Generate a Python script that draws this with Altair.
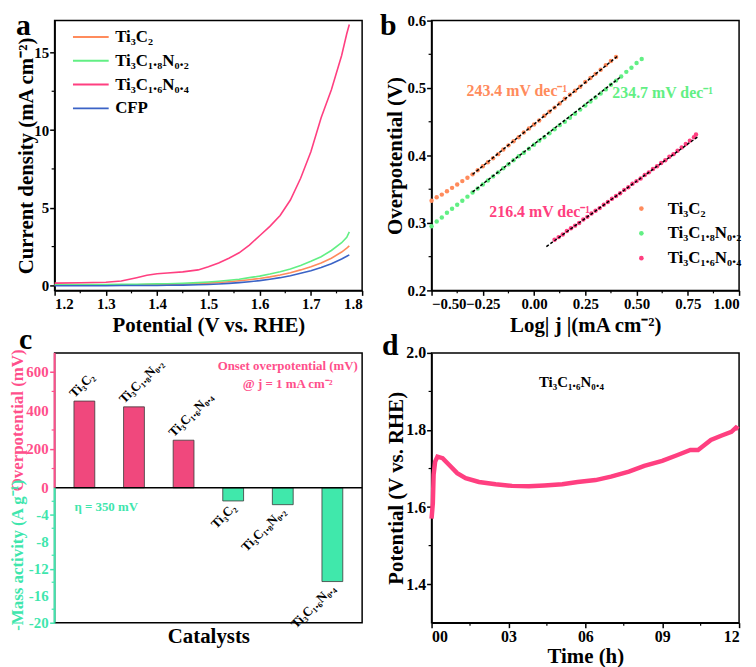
import altair as alt
import pandas as pd

FONT = "Liberation Serif"
W, H = 310, 272

ORANGE = "#ff8b5c"
GREEN = "#62ef84"
PINK = "#ff3f80"
BLUE = "#3b63c6"
CPINK = "#f0487d"
CGREEN = "#40e8ab"
LPINK = "#ff4f8b"
LGREEN = "#3fe6ad"

NAMES = ["Ti₃C₂", "Ti₃C₁.₈N₀.₂", "Ti₃C₁.₆N₀.₄"]

# ---------------- panel a : LSV curves ----------------
lsv_potential = [1.20, 1.25, 1.30, 1.33, 1.36, 1.38, 1.40, 1.42, 1.45, 1.48, 1.50, 1.52, 1.54,
                 1.56, 1.58, 1.60, 1.62, 1.64, 1.66, 1.68, 1.70, 1.72, 1.74, 1.76, 1.77, 1.775]
lsv_ti3c2 = [0.02, 0.02, 0.03, 0.03, 0.04, 0.05, 0.06, 0.07, 0.09, 0.12, 0.15, 0.19, 0.24,
             0.30, 0.37, 0.45, 0.55, 0.67, 0.82, 1.00, 1.20, 1.45, 1.75, 2.15, 2.40, 2.55]
lsv_n02 = [0.05, 0.05, 0.06, 0.07, 0.08, 0.09, 0.10, 0.11, 0.14, 0.18, 0.22, 0.27, 0.33,
           0.40, 0.50, 0.60, 0.73, 0.88, 1.05, 1.28, 1.55, 1.85, 2.25, 2.75, 3.10, 3.45]
lsv_n04 = [0.15, 0.17, 0.20, 0.28, 0.50, 0.65, 0.75, 0.80, 0.87, 1.00, 1.20, 1.45, 1.75,
           2.10, 2.60, 3.20, 3.80, 4.50, 5.50, 6.90, 8.60, 10.8, 12.6, 14.8, 16.2, 16.8]
lsv_cfp = [-0.02, -0.02, -0.02, -0.01, -0.01, 0.00, 0.00, 0.01, 0.02, 0.04, 0.06, 0.09, 0.13,
           0.18, 0.24, 0.31, 0.40, 0.50, 0.62, 0.78, 0.95, 1.15, 1.40, 1.70, 1.88, 1.97]
a_names = NAMES + ["CFP"]
a_colors = [ORANGE, GREEN, PINK, BLUE]
a_xticks = [1.2, 1.3, 1.4, 1.5, 1.6, 1.7, 1.8]
a_xminor = [1.25, 1.35, 1.45, 1.55, 1.65, 1.75]
a_yticks = [0, 5, 10, 15]
a_yminor = [2.5, 7.5, 12.5]

# ---------------- panel b : Tafel plots ----------------
tafel_x_ti3c2 = [-0.500, -0.475, -0.450, -0.425, -0.400, -0.375, -0.350, -0.325, -0.300, -0.275,
                 -0.250, -0.225, -0.200, -0.175, -0.150, -0.125, -0.100, -0.075, -0.050, -0.025,
                 0.000, 0.025, 0.050, 0.075, 0.100, 0.125, 0.150, 0.175, 0.200, 0.225,
                 0.250, 0.275, 0.300, 0.325, 0.350, 0.375, 0.400]
tafel_y_ti3c2 = [0.333, 0.338, 0.342, 0.347, 0.352, 0.357, 0.362, 0.367, 0.372, 0.378,
                 0.384, 0.390, 0.396, 0.402, 0.409, 0.415, 0.421, 0.427, 0.434, 0.440,
                 0.446, 0.452, 0.459, 0.465, 0.471, 0.477, 0.484, 0.490, 0.496, 0.502,
                 0.509, 0.515, 0.521, 0.527, 0.534, 0.540, 0.546]
tafel_x_n02 = [-0.500, -0.475, -0.450, -0.425, -0.400, -0.375, -0.350, -0.325, -0.300, -0.275,
               -0.250, -0.225, -0.200, -0.175, -0.150, -0.125, -0.100, -0.075, -0.050, -0.025,
               0.000, 0.025, 0.050, 0.075, 0.100, 0.125, 0.150, 0.175, 0.200, 0.225,
               0.250, 0.275, 0.300, 0.325, 0.350, 0.375, 0.400, 0.425, 0.450, 0.475, 0.500, 0.525]
tafel_y_n02 = [0.295, 0.302, 0.308, 0.315, 0.321, 0.327, 0.333, 0.339, 0.345, 0.351,
               0.357, 0.363, 0.369, 0.375, 0.381, 0.387, 0.393, 0.399, 0.404, 0.410,
               0.416, 0.422, 0.427, 0.433, 0.439, 0.445, 0.450, 0.456, 0.462, 0.468,
               0.474, 0.480, 0.486, 0.492, 0.498, 0.505, 0.511, 0.517, 0.524, 0.530, 0.537, 0.543]
tafel_x_n04 = [0.10, 0.12, 0.14, 0.16, 0.18, 0.20, 0.22, 0.24, 0.26, 0.28, 0.30, 0.32,
               0.34, 0.36, 0.38, 0.40, 0.42, 0.44, 0.46, 0.48, 0.50, 0.52, 0.54, 0.56,
               0.58, 0.60, 0.62, 0.64, 0.66, 0.68, 0.70, 0.72, 0.74, 0.76, 0.78, 0.79]
tafel_y_n04 = [0.275, 0.279, 0.283, 0.288, 0.292, 0.296, 0.300, 0.305, 0.309, 0.314, 0.318, 0.322,
               0.327, 0.331, 0.336, 0.340, 0.344, 0.349, 0.353, 0.358, 0.362, 0.366, 0.371, 0.375,
               0.380, 0.384, 0.389, 0.393, 0.398, 0.402, 0.407, 0.412, 0.417, 0.422, 0.427, 0.431]
fit_series = ["o", "o", "g", "g", "p", "p"]
fit_x = [-0.30, 0.41, -0.30, 0.42, 0.06, 0.80]
fit_y = [0.372, 0.548, 0.346, 0.516, 0.265, 0.428]
b_xticks = [-0.5, -0.25, 0.0, 0.25, 0.5, 0.75, 1.0]
b_xminor = [-0.375, -0.125, 0.125, 0.375, 0.625, 0.875]
b_yticks = [0.2, 0.3, 0.4, 0.5, 0.6]
b_yminor = [0.25, 0.35, 0.45, 0.55]
slope_texts = ["243.4 mV dec⁻¹", "234.7 mV dec⁻¹", "216.4 mV dec⁻¹"]

# ---------------- panel c : onset overpotential / mass activity ----------------
cat_index = [1, 2, 3, 4, 5, 6]
cat_label = NAMES + NAMES
cat_value = [450, 420, 247, -1.95, -2.5, -13.9]
cat_kind = ["op", "op", "op", "ma", "ma", "ma"]
MV_PER_UNIT = 35  # 700 mV on top half  <->  20 A/g on bottom half
c_ticks = [-20, -16, -12, -8, -4, 0, 200 / 35, 400 / 35, 600 / 35]
c_tick_text = ["-20", "-16", "-12", "-8", "-4", "0", "200", "400", "600"]
c_minor = [-18, -14, -10, -6, -2, 100 / 35, 300 / 35, 500 / 35]

# ---------------- panel d : stability ----------------
stab_time = [0.00, 0.05, 0.08, 0.14, 0.23, 0.43, 0.69, 1.00, 1.33, 1.85, 2.50, 3.14, 3.80,
             4.40, 5.10, 5.70, 6.40, 7.00, 7.70, 8.30, 9.00, 9.60, 10.10, 10.40, 10.65,
             10.90, 11.30, 11.70, 11.88, 11.97]
stab_v = [1.570, 1.610, 1.684, 1.718, 1.731, 1.727, 1.709, 1.688, 1.675, 1.665, 1.659, 1.655,
          1.654, 1.656, 1.659, 1.665, 1.670, 1.679, 1.692, 1.707, 1.720, 1.735, 1.748, 1.748,
          1.761, 1.774, 1.785, 1.795, 1.806, 1.802]
d_xticks = [0, 3, 6, 9, 12]
d_xminor = [1.5, 4.5, 7.5, 10.5]
d_yticks = [1.4, 1.6, 1.8, 2.0]
d_yminor = [1.5, 1.7, 1.9]

ONE = alt.Data(values=[{}])


def txt(text, x, y, size=15, color="black", angle=0, align="center", baseline="middle"):
    kw = dict(text=text, font=FONT, fontWeight="bold", fontSize=size, color=color,
              align=align, baseline=baseline)
    if angle:
        kw["angle"] = angle
    return alt.Chart(ONE).mark_text(**kw).encode(x=alt.value(x), y=alt.value(y))


def letter(ch, x, y):
    return txt(ch, x, y, size=30, align="left", baseline="alphabetic")


def minor_x(vals, length=3):
    return alt.Chart(pd.DataFrame({"m": vals})).mark_rule(color="black", strokeWidth=1.2).encode(
        x=alt.X("m:Q"), y=alt.value(H), y2=alt.value(H + length))


def minor_y(vals, length=3, color="black"):
    return alt.Chart(pd.DataFrame({"m": vals})).mark_rule(color=color, strokeWidth=1.2).encode(
        y=alt.Y("m:Q"), x=alt.value(0), x2=alt.value(-length))


# ---- panel a chart
rows = []
for name, ys in zip(a_names, [lsv_ti3c2, lsv_n02, lsv_n04, lsv_cfp]):
    for v, j in zip(lsv_potential, ys):
        rows.append({"s": name, "V": v, "J": j})
dfa = pd.DataFrame(rows)

a_x = alt.Scale(domain=[1.2, 1.8], nice=False)
a_y = alt.Scale(domain=[-0.32, 17.05], nice=False, zero=False)
a_lines = alt.Chart(dfa).mark_line(strokeWidth=1.6).encode(
    x=alt.X("V:Q", scale=a_x, axis=alt.Axis(values=a_xticks, format=".1f", labelOverlap=False,
                                              title="Potential (V vs. RHE)", titlePadding=3)),
    y=alt.Y("J:Q", scale=a_y, axis=alt.Axis(values=a_yticks, title="Current density (mA cm⁻²)",
                                              labelOverlap=False, titlePadding=-3)),
    color=alt.Color("s:N", scale=alt.Scale(domain=a_names, range=a_colors),
                    legend=alt.Legend(orient="none", legendX=28, legendY=8, title=None,
                                      symbolType="M-3,0H3", symbolSize=144, symbolStrokeWidth=2,
                                      labelFont=FONT, labelFontWeight="bold", labelFontSize=17,
                                      labelOffset=16, rowPadding=6, padding=0)),
    order=alt.Order("V:Q"),
)
panel_a = alt.layer(a_lines, minor_x(a_xminor), minor_y(a_yminor), letter("a", -39, 15)).properties(
    width=W, height=H)

# ---- panel b chart
rows = []
for name, xs, ys in zip(NAMES, [tafel_x_ti3c2, tafel_x_n02, tafel_x_n04],
                        [tafel_y_ti3c2, tafel_y_n02, tafel_y_n04]):
    for xv, yv in zip(xs, ys):
        rows.append({"s": name, "L": xv, "E": yv})
dfb = pd.DataFrame(rows)
dffit = pd.DataFrame({"s": fit_series, "L": fit_x, "E": fit_y})

b_x = alt.Scale(domain=[-0.5, 1.0], nice=False)
b_y = alt.Scale(domain=[0.2, 0.6], nice=False, zero=False)
b_pts = alt.Chart(dfb).mark_circle(size=20, opacity=1).encode(
    x=alt.X("L:Q", scale=b_x, axis=alt.Axis(values=b_xticks, format=".2f", labelOverlap=False,
                                              title="Log| j |(mA cm⁻²)", titlePadding=3)),
    y=alt.Y("E:Q", scale=b_y, axis=alt.Axis(values=b_yticks, format=".1f", labelOverlap=False,
                                              title="Overpotential (V)", titlePadding=2)),
    color=alt.Color("s:N", scale=alt.Scale(domain=NAMES, range=[ORANGE, GREEN, PINK]),
                    legend=alt.Legend(orient="none", legendX=203, legendY=181, title=None,
                                      symbolType="circle", symbolSize=22, symbolStrokeWidth=0,
                                      labelFont=FONT, labelFontWeight="bold", labelFontSize=17,
                                      labelOffset=18, rowPadding=7, padding=0)),
)
b_fit = alt.Chart(dffit).mark_line(color="black", strokeDash=[3, 2], strokeWidth=1.5).encode(
    x=alt.X("L:Q"), y=alt.Y("E:Q"), detail="s:N")
panel_b = alt.layer(
    b_pts, b_fit,
    txt(slope_texts[0], 86, 71, size=16, color=ORANGE),
    txt(slope_texts[1], 233, 73, size=16, color=GREEN),
    txt(slope_texts[2], 109, 193, size=16, color=PINK),
    minor_x(b_xminor), minor_y(b_yminor), letter("b", -52, 15),
).properties(width=W, height=H)

# ---- panel c chart
dfc = pd.DataFrame({"i": cat_index, "label": cat_label, "value": cat_value, "kind": cat_kind})
yv_expr = f"datum.kind == 'op' ? datum.value / {MV_PER_UNIT} : datum.value"
c_xs = alt.Scale(domain=[0.5, 6.5], nice=False)
c_ys = alt.Scale(domain=[-20, 20], nice=False, zero=False)
cond_color = {"condition": {"test": "datum.value >= 0", "value": LPINK}, "value": LGREEN}


def c_bar_layer(kind, color):
    return alt.Chart(dfc).transform_calculate(yv=yv_expr).transform_filter(
        f"datum.kind == '{kind}'").mark_bar(size=21, stroke="#3a3a3a", strokeWidth=0.8, color=color).encode(
        x=alt.X("i:Q", scale=c_xs, axis=alt.Axis(title="Catalysts", labels=False, ticks=False,
                                                   domain=False, titlePadding=3)),
        y=alt.Y("yv:Q", scale=c_ys, axis=alt.Axis(
            values=c_ticks, title=None, domain=False, labels=False, tickColor=cond_color)),
    )


dfct = pd.DataFrame({"v": c_ticks, "t": c_tick_text})


def c_tick_labels(test, color):
    return alt.Chart(dfct).transform_filter(test).mark_text(
        font=FONT, fontWeight="bold", fontSize=15, align="right", baseline="middle",
        color=color).encode(x=alt.value(-6), y=alt.Y("v:Q"), text="t:N")


c_lab_pos = alt.Chart(dfc).transform_calculate(yv=yv_expr).transform_filter("datum.value > 0").mark_text(
    font=FONT, fontWeight="bold", fontSize=13, angle=315, align="left", baseline="alphabetic",
    dx=-5, dy=-9, color="black").encode(
    x=alt.X("i:Q"), y=alt.Y("yv:Q"), text="label:N")
c_lab_neg = alt.Chart(dfc).transform_calculate(yv=yv_expr).transform_filter("datum.value < 0").mark_text(
    font=FONT, fontWeight="bold", fontSize=13, angle=315, align="right", baseline="alphabetic",
    dx=-3, dy=8, color="black").encode(
    x=alt.X("i:Q"), y=alt.Y("yv:Q"), text="label:N")
c_zero = alt.Chart(pd.DataFrame({"z": [0]})).mark_rule(color="black", strokeWidth=1.5).encode(
    y=alt.Y("z:Q"))
c_edge_top = alt.Chart(pd.DataFrame({"a": [0], "b": [20]})).mark_rule(color=LPINK, strokeWidth=2).encode(
    x=alt.value(0), y=alt.Y("a:Q"), y2="b:Q")
c_edge_bot = alt.Chart(pd.DataFrame({"a": [-20], "b": [0]})).mark_rule(color=LGREEN, strokeWidth=2).encode(
    x=alt.value(0), y=alt.Y("a:Q"), y2="b:Q")
panel_c = alt.layer(
    c_bar_layer("op", CPINK), c_bar_layer("ma", CGREEN),
    c_zero, c_lab_pos, c_lab_neg, c_edge_top, c_edge_bot,
    c_tick_labels("datum.v >= 0", LPINK), c_tick_labels("datum.v < 0", LGREEN),
    minor_y([m for m in c_minor if m > 0], color=LPINK),
    minor_y([m for m in c_minor if m < 0], color=LGREEN),
    txt("Overpotential (mV)", -37, 68, size=17, color=LPINK, angle=270),
    txt("-Mass activity (A g⁻¹)", -37, 204, size=17, color=LGREEN, angle=270),
    txt("Onset overpotential (mV)", 235, 13, size=13, color=LPINK),
    txt("@ j = 1 mA cm⁻²", 235, 31, size=13, color=LPINK),
    txt("η = 350 mV", 52, 155, size=13, color=LGREEN),
    letter("c", -36, -4),
).properties(width=W, height=H)

# ---- panel d chart
dfd = pd.DataFrame({"t": stab_time, "v": stab_v})
d_line = alt.Chart(dfd).mark_line(color=PINK, strokeWidth=4.5).encode(
    x=alt.X("t:Q", scale=alt.Scale(domain=[0, 12], nice=False),
            axis=alt.Axis(values=d_xticks, labelExpr="format(datum.value, '02d')", labelOverlap=False,
                          title="Time (h)", titlePadding=1, labelFontSize=16)),
    y=alt.Y("v:Q", scale=alt.Scale(domain=[1.3, 2.0], nice=False, zero=False),
            axis=alt.Axis(values=d_yticks, format=".1f", title="Potential (V vs. RHE)",
                          labelOverlap=False, titlePadding=-1, labelFontSize=16)),
)
panel_d = alt.layer(
    d_line, minor_x(d_xminor), minor_y(d_yminor),
    txt("Ti₃C₁.₆N₀.₄", 141, 29, size=15),
    letter("d", -50, 2),
).properties(width=W, height=H)

chart = alt.concat(
    panel_a, panel_b, panel_c, panel_d, columns=2,
    spacing={"row": 63, "column": 70}, bounds="flush",
).resolve_scale(color="independent").resolve_legend(color="independent").properties(
    padding={"left": 0, "top": 0, "right": 0, "bottom": 0}
).configure(font=FONT).configure_axis(
    labelFont=FONT, titleFont=FONT, labelFontWeight="bold", titleFontWeight="bold",
    labelFontSize=15, titleFontSize=21, labelColor="black", titleColor="black",
    domainColor="black", tickColor="black", domainWidth=1.5, tickWidth=1.5, tickSize=5,
    grid=False, labelPadding=1, labelOverlap=False,
).configure_view(stroke="black", strokeWidth=1.5)

chart.save("out.html", embed_options={"renderer": "svg", "actions": False})
